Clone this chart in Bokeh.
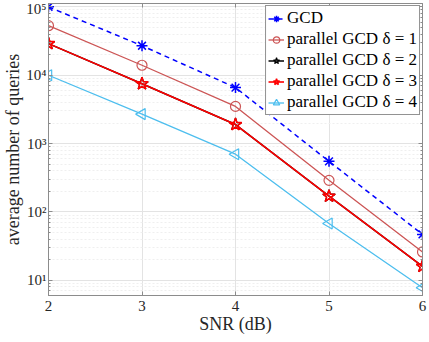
from bokeh.plotting import figure
from bokeh.models import (Range1d, LogAxis, LinearAxis, FixedTicker, CustomJSTickFormatter,
                          Legend, LegendItem)
from bokeh.embed import file_html
from bokeh.resources import INLINE
import math

snr = [2, 3, 4, 5, 6]
gcd = [1.0e5, 2.7e4, 6.6e3, 5.5e2, 47]
par1 = [5.3e4, 1.4e4, 3.5e3, 2.9e2, 26]
par2 = [2.9e4, 7.5e3, 1.9e3, 1.7e2, 16]
par3 = [2.9e4, 7.5e3, 1.9e3, 1.7e2, 16]
par4 = [1.0e4, 2.7e3, 7.0e2, 68, 7.8]

x_ticks = [2, 3, 4, 5, 6]
y_ticks = [1e1, 1e2, 1e3, 1e4, 1e5]
y_minor = [m * 10 ** d for d in range(0, 6) for m in range(2, 10)]

labels = ["GCD", "parallel GCD δ = 1", "parallel GCD δ = 2",
          "parallel GCD δ = 3", "parallel GCD δ = 4"]

SERIF = "Liberation Serif"
LEGFONT = "Times New Roman"
AX = "#8c8c8c"
TXT = "#262626"

p = figure(frame_width=374, frame_height=292, y_axis_type="log",
           x_range=Range1d(2, 6), y_range=Range1d(6, 1.12e5),
           output_backend="svg", toolbar_location=None,
           min_border_left=4, min_border_right=6, min_border_top=3, min_border_bottom=3)
p.background_fill_color = "white"
p.outline_line_color = AX
p.outline_line_width = 1

sup_code = """
const sup = {'0':'\u2070','1':'\u00b9','2':'\u00b2','3':'\u00b3','4':'\u2074','5':'\u2075','6':'\u2076','7':'\u2077','8':'\u2078','9':'\u2079','-':'\u207b'};
const e = Math.round(Math.log10(tick));
return '10' + String(e).split('').map(c => sup[c]).join('');
"""

p.xaxis.ticker = FixedTicker(ticks=x_ticks)
p.yaxis.ticker = FixedTicker(ticks=y_ticks, minor_ticks=y_minor)
p.yaxis.formatter = CustomJSTickFormatter(code=sup_code)

for ax in (p.xaxis[0], p.yaxis[0]):
    ax.axis_line_color = AX
    ax.major_tick_line_color = AX
    ax.minor_tick_line_color = AX
    ax.major_tick_in = 4
    ax.major_tick_out = 0
    ax.minor_tick_in = 2
    ax.minor_tick_out = 0
    ax.major_label_text_font = SERIF
    ax.major_label_text_font_size = "15px"
    ax.major_label_text_color = TXT
    ax.axis_label_text_font = SERIF
    ax.axis_label_text_font_size = "18px"
    ax.axis_label_text_font_style = "normal"
    ax.axis_label_text_color = TXT
p.xaxis.minor_tick_line_color = None
p.xaxis.major_label_standoff = 5
p.yaxis.major_label_standoff = 2
p.xaxis.axis_label_standoff = 0
p.yaxis.axis_label_standoff = 0
p.xaxis.axis_label = "SNR (dB)"
p.yaxis.axis_label = "average number of queries"

blank = CustomJSTickFormatter(code="return '';")
ra = LogAxis(ticker=FixedTicker(ticks=y_ticks, minor_ticks=y_minor), formatter=blank,
             axis_line_color=AX, major_tick_line_color=AX, minor_tick_line_color=AX,
             major_tick_in=4, major_tick_out=0, minor_tick_in=2, minor_tick_out=0,
             major_label_standoff=0)
p.add_layout(ra, "right")
ta = LinearAxis(ticker=FixedTicker(ticks=x_ticks), formatter=blank,
                axis_line_color=AX, major_tick_line_color=AX,
                major_tick_in=4, major_tick_out=0, minor_tick_line_color=None,
                major_label_standoff=0)
p.add_layout(ta, "above")

p.xgrid.grid_line_color = "#e3e3e3"
p.ygrid.grid_line_color = "#e3e3e3"
p.ygrid.minor_grid_line_color = "#efefef"
p.ygrid.minor_grid_line_dash = "2 2"

blue = "#0000ff"
rose = "#cc5555"
red = "#ff0000"
cyan = "#4dbeee"

r0l = p.line(snr, gcd, line_color=blue, line_width=1.5, line_dash="5 4")
r0m = p.scatter(snr, gcd, marker="asterisk", size=11, line_color=blue, line_width=1.5)

r1l = p.line(snr, par1, line_color=rose, line_width=1.3)
r1m = p.scatter(snr, par1, marker="circle", size=10, line_color=rose, fill_color=None, line_width=1.2)

r2l = p.line(snr, par2, line_color="black", line_width=1.5)
r2m = p.scatter(snr, par2, marker="star", size=13, line_color="black", fill_color=None, line_width=1.2)

r3l = p.line(snr, par3, line_color=red, line_width=1.6)
r3m = p.scatter(snr, par3, marker="star", size=13, line_color=red, fill_color=None, line_width=1.5)

r4l = p.line(snr, par4, line_color=cyan, line_width=1.3)
r4m = p.scatter(snr, par4, marker="triangle", angle=math.pi / 2, size=11,
                line_color=cyan, fill_color=None, line_width=1.2)

legend = Legend(items=[
    LegendItem(label=labels[0], renderers=[r0l, r0m]),
    LegendItem(label=labels[1], renderers=[r1l, r1m]),
    LegendItem(label=labels[2], renderers=[r2l, r2m]),
    LegendItem(label=labels[3], renderers=[r3l, r3m]),
    LegendItem(label=labels[4], renderers=[r4l, r4m]),
], location="top_right")
legend.label_text_font = LEGFONT
legend.label_text_font_size = "17px"
legend.label_text_color = "black"
legend.border_line_color = TXT
legend.border_line_width = 1
legend.background_fill_alpha = 1
legend.glyph_width = 16
legend.glyph_height = 17
legend.label_standoff = 3
legend.spacing = 1
legend.padding = 2
legend.margin = 2
legend.label_height = 17
p.add_layout(legend)

open("out.html", "w").write(file_html(p, INLINE))
